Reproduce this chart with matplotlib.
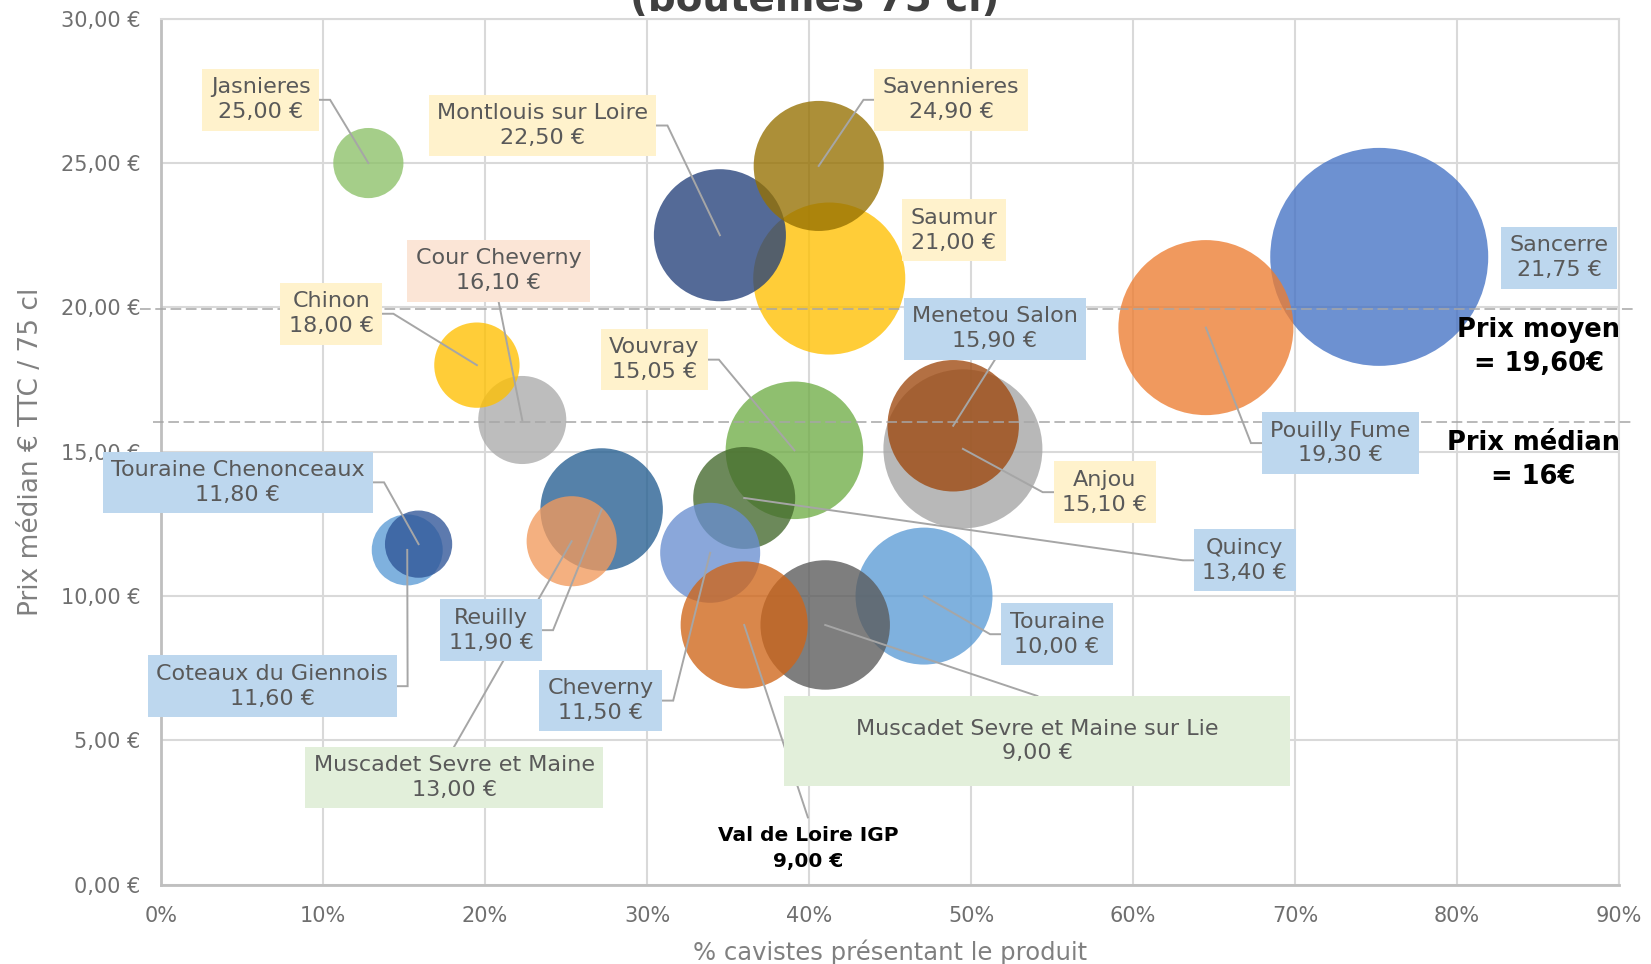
import matplotlib
matplotlib.use('Agg')
import matplotlib.pyplot as plt
from matplotlib.patches import Rectangle

plt.rcParams['font.family'] = ['DejaVu Sans']

# Données (ordre = ordre de tracé des bulles)
appellations = ['Touraine', 'Muscadet Sevre et Maine sur Lie', 'Vouvray', 'Quincy', 'Cheverny',
                'Val de Loire IGP', 'Anjou', 'Menetou Salon', 'Reuilly', 'Muscadet Sevre et Maine',
                'Coteaux du Giennois', 'Touraine Chenonceaux', 'Saumur', 'Montlouis sur Loire',
                'Savennieres', 'Sancerre', 'Pouilly Fume', 'Cour Cheverny', 'Chinon', 'Jasnieres']
pct_cavistes = [47.1, 41.0, 39.1, 36.0, 33.9, 36.0, 49.5, 48.9, 27.2, 25.35,
                15.2, 15.9, 41.25, 34.5, 40.6, 75.2, 64.5, 22.3, 19.5, 12.8]
prix_median = [10.0, 9.0, 15.05, 13.4, 11.5, 9.0, 15.1, 15.9, 13.0, 11.9,
               11.6, 11.8, 21.0, 22.5, 24.9, 21.75, 19.3, 16.1, 18.0, 25.0]
prix_etiquette = ['10,00 €', '9,00 €', '15,05 €', '13,40 €', '11,50 €', '9,00 €', '15,10 €', '15,90 €',
                  '11,90 €', '13,00 €', '11,60 €', '11,80 €', '21,00 €', '22,50 €', '24,90 €',
                  '21,75 €', '19,30 €', '16,10 €', '18,00 €', '25,00 €']
taille_bulle = [46.9, 41.9, 47.3, 26.0, 25.0, 40.4, 63.2, 43.2, 37.5, 20.3,
                12.6, 11.3, 57.8, 43.6, 42.3, 118.8, 76.6, 19.4, 18.2, 12.3]

prix_moyen = 19.60
prix_med_global = 16.0
y_ticks = [0, 5, 10, 15, 20, 25, 30]
x_ticks = [0, 10, 20, 30, 40, 50, 60, 70, 80, 90]

# Style
couleurs = ['#5B9BD5', '#5A5A5A', '#70AD47', '#43682B', '#698ED0', '#CF6518', '#A5A5A5', '#9E480E',
            '#255E91', '#F29A5C', '#5B9BD5', '#2F5597', '#FFC000', '#24407A', '#957000', '#4472C4',
            '#ED7D31', '#ABABAB', '#FFC000', '#8CC168']
fond_etiquette = {'Touraine': '#BDD7EE', 'Vouvray': '#FFF2CC', 'Quincy': '#BDD7EE', 'Cheverny': '#BDD7EE',
                  'Anjou': '#FFF2CC', 'Menetou Salon': '#BDD7EE', 'Reuilly': '#BDD7EE',
                  'Muscadet Sevre et Maine': '#E2EFDA', 'Coteaux du Giennois': '#BDD7EE',
                  'Touraine Chenonceaux': '#BDD7EE', 'Saumur': '#FFF2CC', 'Montlouis sur Loire': '#FFF2CC',
                  'Savennieres': '#FFF2CC', 'Sancerre': '#BDD7EE', 'Pouilly Fume': '#BDD7EE',
                  'Cour Cheverny': '#FBE5D6', 'Chinon': '#FFF2CC', 'Jasnieres': '#FFF2CC'}
# position de l'étiquette (x %, y €) et côté du trait de rappel
pos_etiquette = {
    'Touraine': (55.3, 8.68, 'gauche'),
    'Muscadet Sevre et Maine sur Lie': (54.1, 4.98, 'haut'),
    'Vouvray': (30.45, 18.19, 'droite'),
    'Quincy': (66.9, 11.24, 'gauche'),
    'Cheverny': (27.14, 6.38, 'droite'),
    'Val de Loire IGP': (39.93, 1.26, 'haut'),
    'Anjou': (58.25, 13.6, 'gauche'),
    'Menetou Salon': (51.48, 19.26, 'bas'),
    'Reuilly': (20.38, 8.82, 'droite'),
    'Muscadet Sevre et Maine': (18.1, 3.72, 'haut'),
    'Coteaux du Giennois': (6.87, 6.88, 'droite'),
    'Touraine Chenonceaux': (4.74, 13.94, 'droite'),
    'Saumur': (48.95, 22.67, None),
    'Montlouis sur Loire': (23.55, 26.3, 'droite'),
    'Savennieres': (48.78, 27.19, 'gauche'),
    'Sancerre': (86.31, 21.72, None),
    'Pouilly Fume': (72.81, 15.3, 'gauche'),
    'Cour Cheverny': (20.84, 21.27, 'bas'),
    'Chinon': (10.52, 19.78, 'droite'),
    'Jasnieres': (6.16, 27.19, 'droite'),
}

W, H = 1651, 964
fig = plt.figure(figsize=(W / 100, H / 100), dpi=100)
ax = fig.add_axes([161 / W, 1 - 884.8 / H, (1619 - 161) / W, (884.8 - 18.7) / H])

ax.set_xlim(0, 90)
ax.set_ylim(0, 30)
ax.set_xticks(x_ticks)
ax.set_xticklabels([f'{v}%' for v in x_ticks])
ax.set_yticks(y_ticks)
ax.set_yticklabels([f'{v},00 €' for v in y_ticks])
ax.tick_params(length=0, labelsize=15, labelcolor='#6F6F6F', pad=15)
ax.grid(True, color='#D9D9D9', linewidth=1.5, zorder=0)
ax.set_axisbelow(True)
for side in ['top', 'right']:
    ax.spines[side].set_color('#D9D9D9')
    ax.spines[side].set_linewidth(1.5)
for side in ['left', 'bottom']:
    ax.spines[side].set_color('#BFBFBF')
    ax.spines[side].set_linewidth(2)

ax.set_xlabel('% cavistes présentant le produit', fontsize=17.5, color='#808080', labelpad=10)
ax.set_ylabel('Prix médian € TTC / 75 cl', fontsize=19, color='#808080', labelpad=12)

# Bulles
ax.scatter(pct_cavistes, prix_median, s=[207.36 * t for t in taille_bulle], c=couleurs,
           alpha=0.78, linewidths=0, zorder=2)

# Lignes prix moyen / médian
ax.plot([-1.3, 90.9], [19.95, 19.95], color='#A6A6A6', lw=1.1, dashes=(7, 3), clip_on=False, zorder=3)
ax.plot([-0.5, 90.9], [prix_med_global + 0.04] * 2, color='#A6A6A6', lw=1.1, dashes=(7, 3),
        clip_on=False, zorder=3)
ax.text(85.06, 18.62, f'Prix moyen\n= {prix_moyen:.2f}€'.replace('.', ','), ha='center', va='center',
        fontsize=18.5, fontweight='bold', color='black', linespacing=1.4, zorder=6)
ax.text(84.7, 14.71, 'Prix médian\n= 16€', ha='center', va='center',
        fontsize=18.5, fontweight='bold', color='black', linespacing=1.4, zorder=6)

# Etiquettes
textes = {}
for nom, prix in zip(appellations, prix_etiquette):
    lx, ly, cote = pos_etiquette[nom]
    if nom == 'Val de Loire IGP':
        t = ax.text(lx, ly, f'{nom}\n{prix}', ha='center', va='center', fontsize=14.5,
                    fontweight='bold', color='black', linespacing=1.45, zorder=6)
    elif nom == 'Muscadet Sevre et Maine sur Lie':
        ax.add_patch(Rectangle((38.48, 3.41), 69.71 - 38.48, 6.54 - 3.41, facecolor='#E2EFDA',
                               edgecolor='none', zorder=5))
        t = ax.text(lx, ly, f'{nom}\n{prix}', ha='center', va='center', fontsize=16,
                    color='#595959', linespacing=1.3, zorder=6)
    else:
        t = ax.text(lx, ly, f'{nom}\n{prix}', ha='center', va='center', fontsize=16,
                    color='#595959', linespacing=1.3, zorder=6,
                    bbox=dict(boxstyle='square,pad=0.38', facecolor=fond_etiquette[nom], edgecolor='none'))
    textes[nom] = t

# Traits de rappel
fig.canvas.draw()
inv = ax.transData.inverted()
stub = 11 / 16.2
for nom, bx, by in zip(appellations, pct_cavistes, prix_median):
    lx, ly, cote = pos_etiquette[nom]
    if cote is None:
        continue
    t = textes[nom]
    if nom == 'Muscadet Sevre et Maine sur Lie':
        x0, y0, x1, y1 = 38.48, 3.41, 69.71, 6.54
    else:
        patch = t.get_bbox_patch()
        bb = patch.get_window_extent() if patch is not None else t.get_window_extent()
        (x0, y0), (x1, y1) = inv.transform([[bb.x0, bb.y0], [bb.x1, bb.y1]])
        if patch is None:
            y1 += 0.3
    xm, ym = (x0 + x1) / 2, (y0 + y1) / 2
    if cote == 'droite':
        xs, ys = [x1, x1 + stub, bx], [ym, ym, by]
    elif cote == 'gauche':
        xs, ys = [x0, x0 - stub, bx], [ym, ym, by]
    elif cote == 'bas':
        xs, ys = [xm, bx], [y0, by]
    else:
        xs, ys = [xm, bx], [y1, by]
    ax.plot(xs, ys, color='#A6A6A6', lw=1.4, zorder=4, solid_joinstyle='miter')

fig.text(815 / W, 1 - 10.5 / H, '(bouteilles 75 cl)', ha='center', va='baseline', fontsize=28,
         fontweight='bold', color='#404040')

fig.savefig('out.png', dpi=100, facecolor='white')
